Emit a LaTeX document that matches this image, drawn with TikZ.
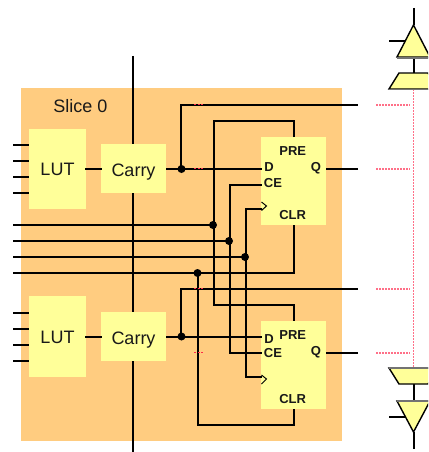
\documentclass[tikz,border=0pt]{standalone}
\usepackage{fontspec}
\setmainfont{Liberation Sans}
\usetikzlibrary{calc}
\definecolor{sliceor}{HTML}{FFCC80}
\definecolor{boxyel}{HTML}{FFFF99}
\definecolor{dotred}{HTML}{FF2A4A}
\definecolor{dotpink}{HTML}{FF7088}
\tikzset{
  wire/.style={line width=2pt,black,line cap=butt,line join=miter},
  block/.style={fill=boxyel,draw=none,inner sep=0pt,font=\fontsize{18}{20}\selectfont,text=black!90,text depth=0pt},
  pin/.style={inner sep=0pt,font=\fontsize{13}{15}\selectfont\bfseries,text=black!90,text depth=0pt},
  junction/.style={circle,fill=black,inner sep=0pt,minimum size=8pt},
  reddots/.style={dotred,line width=1.2pt,dash pattern=on 2pt off 1.5pt},
  pinkdots/.style={dotpink,line width=1.5pt,dash pattern=on 2pt off 1pt},
  padshape/.style={fill=boxyel,draw=black,line width=1.4pt,line join=miter},
  padshadow/.style={draw=black!55,line width=1.4pt,line join=miter}
}
\begin{document}
\begin{tikzpicture}[x=1pt,y=-1pt]
\useasboundingbox (0,0) rectangle (428,452);
\clip (0,0) rectangle (428,452);
\fill[white] (0,0) rectangle (428,452);
\fill[sliceor] (21,88) rectangle (342,441);
\node[text=black!90,font=\fontsize{18}{20}\selectfont,inner sep=0pt,text depth=0pt] (title) at (80.5,106) {Slice 0};

% blocks
\node[block,minimum width=57pt,minimum height=80pt] (lut1) at (57.5,169) {};
\node[block,minimum width=65pt,minimum height=49pt] (carry1) at (133.5,168.5) {};
\node[block,minimum width=57pt,minimum height=81pt] (lut2) at (57.5,336.5) {};
\node[block,minimum width=65pt,minimum height=49pt] (carry2) at (133.5,336.5) {};
\node[block,minimum width=65pt,minimum height=88pt] (ff1) at (293.5,181) {};
\node[block,minimum width=65pt,minimum height=88pt] (ff2) at (293.5,365) {};
\node[block,fill=none] (lut1t) at (57.5,169.5) {LUT};
\node[block,fill=none] (carry1t) at (133.5,170) {Carry};
\node[block,fill=none] (lut2t) at (57.5,337.5) {LUT};
\node[block,fill=none] (carry2t) at (133.5,338) {Carry};

% pin labels
\node[pin] (p1) at (292.7,151) {PRE};
\node[pin] (d1) at (269,167.5) {D};
\node[pin] (q1) at (316,167) {Q};
\node[pin] (ce1) at (273,183) {CE};
\node[pin] (c1) at (292.7,215) {CLR};
\node[pin] (p2) at (292.7,335) {PRE};
\node[pin] (d2) at (269,339) {D};
\node[pin] (q2) at (316,351) {Q};
\node[pin] (ce2) at (273,353) {CE};
\node[pin] (c2) at (292.7,399) {CLR};

% free ends and routing points
\foreach \n/\y in {a1/145,a2/161,a3/177,a4/193,b1/313,b2/329,b3/345,b4/361,h1/225,h2/241,h3/257,h4/273}
  \coordinate (\n) at (13,\y);
\coordinate (ctop) at (133,56);
\coordinate (cbot) at (133,452);
\coordinate (o1) at (358,105);
\coordinate (o2) at (358,169);
\coordinate (o3) at (358,289);
\coordinate (o4) at (358,353);
\coordinate (ck1) at (261.5,209);
\coordinate (ck2) at (261.5,377);
\coordinate (ce1p) at (261.5,185);
\coordinate (ce2p) at (261.5,353);
\coordinate (d1p) at (262,169);
\coordinate (d2p) at (262,337);

% LUT inputs
\foreach \n in {a1,a2,a3,a4} \draw[wire] (\n) -- (\n -| lut1.west);
\foreach \n in {b1,b2,b3,b4} \draw[wire] (\n) -- (\n -| lut2.west);
% LUT to carry
\draw[wire] (85,169) -- (102,169);
\draw[wire] (85,337) -- (102,337);
% carry chain
\draw[wire] (ctop) -- (ctop |- carry1.north);
\draw[wire] (ctop |- carry1.south) -- (ctop |- carry2.north);
\draw[wire] (ctop |- carry2.south) -- (cbot);
% carry outs
\draw[wire] (d1p -| carry1.east) -- (d1p);
\draw[wire] (d2p -| carry2.east) -- (d2p);
% X outputs
\draw[wire] (181,169) -- (181,105) -- (o1);
\draw[wire] (181,337) -- (181,289) -- (o3);
% Q outputs
\draw[wire] (o2) -- (o2 -| ff1.east);
\draw[wire] (o4) -- (o4 -| ff2.east);
% control lines
\draw[wire] (h1) -- (214,225);
\draw[wire] (h2) -- (230,241);
\draw[wire] (h3) -- (246,257);
\draw[wire] (h4) -- (294,273) -- (294,225);
% PRE
\draw[wire] (294,137) -- (294,121) -- (214,121) -- (214,305) -- (294,305) -- (294,321);
% CE
\draw[wire] (ce1p) -- (230,185) -- (230,353) -- (ce2p);
% CK
\draw[wire] (ck1) -- (246,209) -- (246,377) -- (ck2);
% CLR
\draw[wire] (198,273) -- (198,425) -- (294,425) -- (294,409);
% clock chevrons
\draw[line width=1pt] (261.5,202) -- (266.5,206) -- (261.5,210.5);
\draw[line width=1pt] (261.5,375) -- (266.5,379) -- (261.5,384);

% junctions
\node[junction] (j1) at (181.5,169) {};
\node[junction] (j2) at (181.5,336.5) {};
\node[junction] (j3) at (213,225) {};
\node[junction] (j4) at (229,241) {};
\node[junction] (j5) at (245,257) {};
\node[junction] (j6) at (197.5,273) {};

% red dotted routing
\foreach \y in {105,169,289,353} {
  \draw[pinkdots] (376,\y) -- (410,\y);
}
\foreach \y in {104,168,288,352} {
  \draw[reddots,line width=0.8pt] (194,\y) -- (203,\y);
}
\path[fill=dotpink] (412.8,90) rectangle (414.2,368);
\foreach \k in {0,...,92}
  \fill[white] (412.5,{91+3*\k}) rectangle (414.5,{92+3*\k});

% top pad
\draw[wire] (413.5,8) -- (413.5,25);
\draw[wire] (389,41) -- (405,41);
\draw[wire] (413.5,57) -- (413.5,73);
\draw[padshape] (413.5,25) -- (397,57) -- (430,57) -- cycle;
\draw[padshadow] (397,58) -- (430,58);
\draw[padshape] (399,73) -- (389,89) -- (438,89) -- (428,73) -- cycle;
\draw[padshadow] (389,89.5) -- (438,89.5);
% bottom pad
\draw[wire] (413.5,384) -- (413.5,401);
\draw[wire] (389,417) -- (405,417);
\draw[wire] (413.5,432) -- (413.5,449);
\draw[padshape] (389,368) -- (399,384) -- (428,384) -- (438,368) -- cycle;
\draw[padshadow] (389,368) -- (438,368);
\draw[padshape] (397,401) -- (413.5,432) -- (430,401) -- cycle;
\draw[padshadow] (397,401) -- (430,401);
\end{tikzpicture}
\end{document}
